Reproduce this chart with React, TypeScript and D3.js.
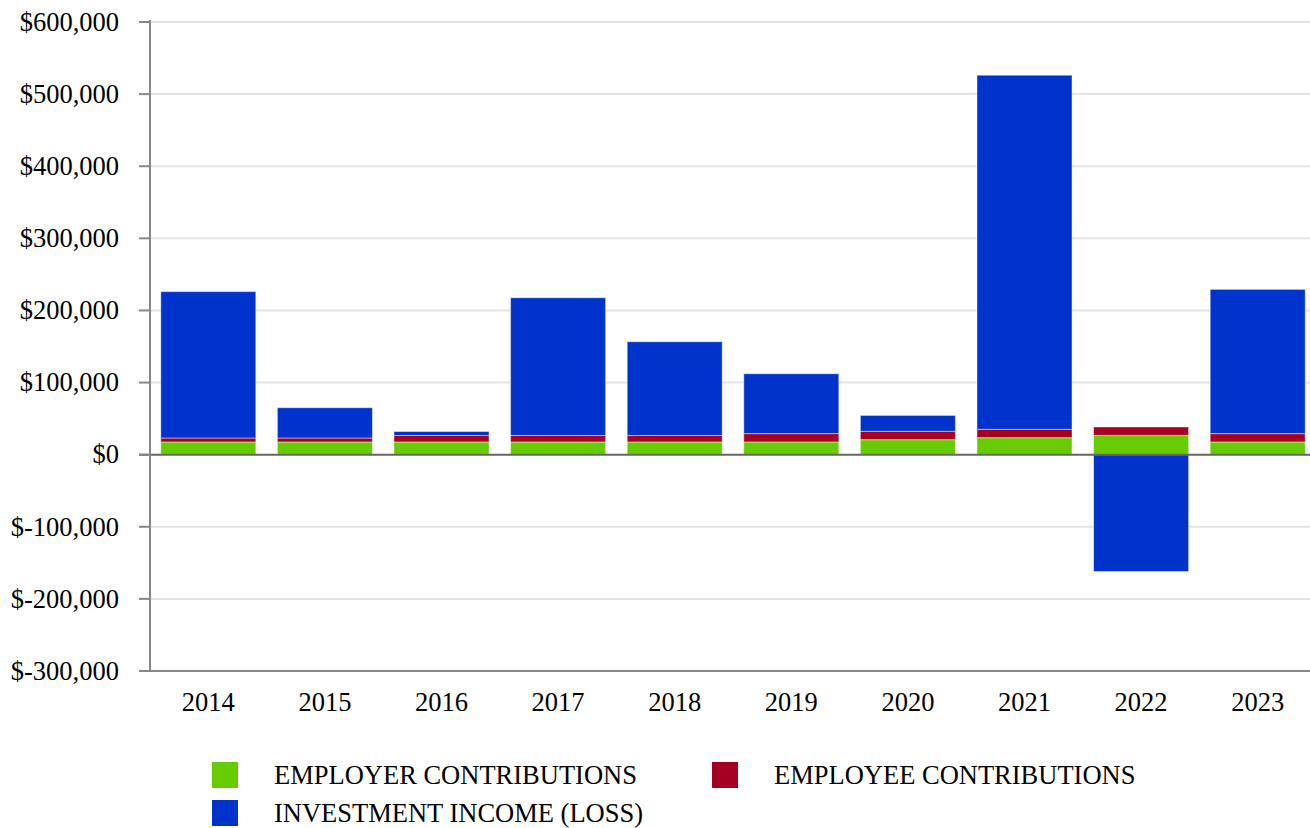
import React, { useEffect, useRef } from "react";
import * as d3 from "d3";

const years = ["2014", "2015", "2016", "2017", "2018", "2019", "2020", "2021", "2022", "2023"];
const employer = [17600, 17600, 17600, 17600, 17600, 17600, 20800, 23600, 26800, 17600];
const employee = [5500, 5500, 9000, 9000, 9000, 11600, 11600, 11600, 11600, 11600];
const investment = [203000, 42000, 5500, 191000, 130000, 83000, 22000, 491000, -162000, 200000];
const seriesNames = ["EMPLOYER CONTRIBUTIONS", "EMPLOYEE CONTRIBUTIONS", "INVESTMENT INCOME (LOSS)"];
const seriesKeys = ["employer", "employee", "investment"];
const seriesColors = ["#66cc00", "#a50021", "#0033cc"];
const yTicks = [-300000, -200000, -100000, 0, 100000, 200000, 300000, 400000, 500000, 600000];

const W = 1310;
const H = 828;
const FONT = "'Liberation Serif', 'Times New Roman', serif";
const FS = 26.5;

export default function App() {
  const ref = useRef<SVGSVGElement | null>(null);

  useEffect(() => {
    document.body.style.margin = "0";
    const svg = d3.select(ref.current);
    svg.selectAll("*").remove();

    const left = 150;
    const right = 1310;
    const top = 22;
    const bottom = 671;

    const x = d3.scaleBand<string>().domain(years).range([left, 1316]).paddingInner(0.185).paddingOuter(0.0925);
    const y = d3.scaleLinear().domain([-300000, 600000]).range([bottom, top]);

    const rows = years.map((yr, i) => ({
      year: yr,
      employer: employer[i],
      employee: employee[i],
      investment: investment[i],
    }));

    const stack = d3.stack<any>().keys(seriesKeys).offset(d3.stackOffsetDiverging);
    const stacked = stack(rows);

    // grid
    svg.append("g")
      .selectAll("line")
      .data(yTicks.filter((t) => t !== 0 && t !== -300000))
      .join("line")
      .attr("x1", left)
      .attr("x2", right)
      .attr("y1", (d) => y(d))
      .attr("y2", (d) => y(d))
      .attr("stroke", "#e4e4e4")
      .attr("stroke-width", 2);

    // bars
    svg.append("g")
      .selectAll("g")
      .data(stacked)
      .join("g")
      .attr("fill", (_d, i) => seriesColors[i])
      .selectAll("rect")
      .data((d) => d)
      .join("rect")
      .attr("x", (d: any) => x(d.data.year)!)
      .attr("width", x.bandwidth())
      .attr("y", (d) => y(Math.max(d[0], d[1])))
      .attr("height", (d) => Math.abs(y(d[0]) - y(d[1])))
      .attr("stroke", "#ffffff")
      .attr("stroke-opacity", 0.45)
      .attr("stroke-width", 1);

    // zero line
    svg.append("line")
      .attr("x1", 139)
      .attr("x2", right)
      .attr("y1", y(0))
      .attr("y2", y(0))
      .attr("stroke", "#666666")
      .attr("stroke-width", 2);

    // y axis line
    svg.append("line")
      .attr("x1", left)
      .attr("x2", left)
      .attr("y1", top - 2)
      .attr("y2", bottom)
      .attr("stroke", "#888888")
      .attr("stroke-width", 2);

    // bottom axis line
    svg.append("line")
      .attr("x1", 139)
      .attr("x2", right)
      .attr("y1", bottom)
      .attr("y2", bottom)
      .attr("stroke", "#888888")
      .attr("stroke-width", 2);

    // y tick marks
    svg.append("g")
      .selectAll("line")
      .data(yTicks)
      .join("line")
      .attr("x1", 139)
      .attr("x2", left)
      .attr("y1", (d) => y(d))
      .attr("y2", (d) => y(d))
      .attr("stroke", "#888888")
      .attr("stroke-width", 2);

    const fmt = d3.format(",");
    svg.append("g")
      .selectAll("text")
      .data(yTicks)
      .join("text")
      .attr("x", 119)
      .attr("y", (d) => y(d))
      .attr("dy", "0.33em")
      .attr("text-anchor", "end")
      .attr("font-family", FONT)
      .attr("font-size", FS)
      .attr("fill", "#000")
      .text((d) => (d < 0 ? "$-" + fmt(-d) : "$" + fmt(d)));

    // x labels
    svg.append("g")
      .selectAll("text")
      .data(years)
      .join("text")
      .attr("x", (d) => x(d)! + x.bandwidth() / 2)
      .attr("y", 711)
      .attr("text-anchor", "middle")
      .attr("font-family", FONT)
      .attr("font-size", FS)
      .attr("fill", "#000")
      .text((d) => d);

    // legend
    const legendPos = [
      { x: 212, y: 762 },
      { x: 712, y: 762 },
      { x: 212, y: 800 },
    ];
    const lg = svg.append("g");
    seriesNames.forEach((name, i) => {
      const p = legendPos[i];
      lg.append("rect")
        .attr("x", p.x)
        .attr("y", p.y)
        .attr("width", 26)
        .attr("height", 26)
        .attr("fill", seriesColors[i]);
      lg.append("text")
        .attr("x", p.x + 62)
        .attr("y", p.y + 13)
        .attr("dy", "0.33em")
        .attr("font-family", FONT)
        .attr("font-size", FS)
        .attr("fill", "#000")
        .text(name);
    });
  }, []);

  return (
    <svg
      ref={ref}
      width={W}
      height={H}
      style={{ position: "absolute", left: 0, top: 0, background: "#fff" }}
    />
  );
}
